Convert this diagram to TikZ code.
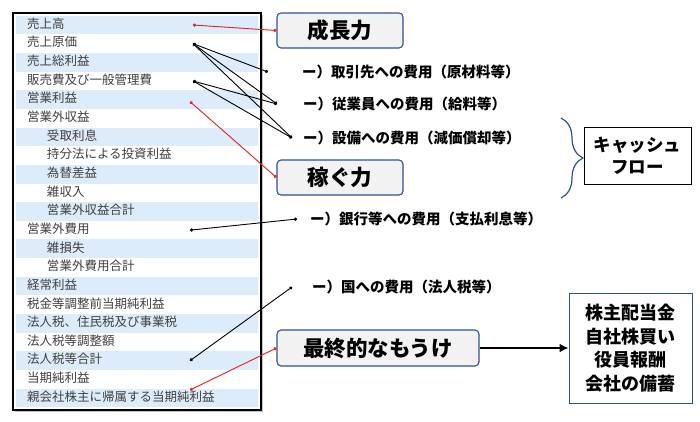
\documentclass[tikz,border=0pt]{standalone}
\usepackage{fontspec}
\setmainfont{Noto Sans CJK JP}
\usepackage{tikz}
\usetikzlibrary{arrows.meta, positioning, fit, backgrounds, shadows, decorations.pathreplacing}
\definecolor{rowblue}{RGB}{220,236,250}
\definecolor{boxblue}{RGB}{47,82,143}
\definecolor{boxgray}{RGB}{242,242,242}
\definecolor{linered}{RGB}{235,35,35}
\tikzset{
    rownode/.style = {rectangle, fill=white, inner sep=0pt, outer sep=0pt, inner xsep=11pt, minimum width=242pt,
      minimum height=18.65pt, text height=9pt, text depth=2.5pt, text width=220pt, align=left,
      font=\fontsize{12.5}{14}\selectfont, text=black!75},
    bluerownode/.style = {rownode, fill=rowblue},
    textnode/.style = {draw=none, fill=none, rectangle, inner sep=0pt, anchor=west,
      font=\fontsize{14.5}{16}\selectfont\bfseries},
    roundnode/.style = {draw=boxblue, line width=1.1pt, fill=boxgray, rounded corners=0.4em, inner sep=0pt,
      minimum height=35pt, font=\fontsize{21.5}{24}\selectfont\bfseries},
    rectanglenode/.style = {draw, rectangle, inner sep=0pt, align=center, line width=1pt},
    connect/.style = {black, line width=0.9pt, {Circle[length=3.2pt]}-{Circle[length=3.2pt]}},
    redconnect/.style = {connect, draw=linered, fill=linered}
}
\newcommand{\inrow}{\hspace*{20pt}}

\begin{document}
\begin{tikzpicture}[x=1pt, y=-1pt]
    \useasboundingbox (0,0) rectangle (700,421);

    \node [name=r1, bluerownode] at (137,25) {売上高};
    \node [name=r2, rownode, below=0pt of r1] {売上原価};
    \node [name=r3, bluerownode, below=0pt of r2] {売上総利益};
    \node [name=r4, rownode, below=0pt of r3] {販売費及び一般管理費};
    \node [name=r5, bluerownode, below=0pt of r4] {営業利益};
    \node [name=r6, rownode, below=0pt of r5] {営業外収益};
    \node [name=r7, bluerownode, below=0pt of r6] {\inrow 受取利息};
    \node [name=r8, rownode, below=0pt of r7] {\inrow 持分法による投資利益};
    \node [name=r9, bluerownode, below=0pt of r8] {\inrow 為替差益};
    \node [name=r10, rownode, below=0pt of r9] {\inrow 雑収入};
    \node [name=r11, bluerownode, below=0pt of r10] {\inrow 営業外収益合計};
    \node [name=r12, rownode, below=0pt of r11] {営業外費用};
    \node [name=r13, bluerownode, below=0pt of r12] {\inrow 雑損失};
    \node [name=r14, rownode, below=0pt of r13] {\inrow 営業外費用合計};
    \node [name=r15, bluerownode, below=0pt of r14] {経常利益};
    \node [name=r16, rownode, below=0pt of r15] {税金等調整前当期純利益};
    \node [name=r17, bluerownode, below=0pt of r16] {法人税、住民税及び事業税};
    \node [name=r18, rownode, below=0pt of r17] {法人税等調整額};
    \node [name=r19, bluerownode, below=0pt of r18] {法人税等合計};
    \node [name=r20, rownode, below=0pt of r19] {当期純利益};
    \node [name=r21, bluerownode, below=0pt of r20] {親会社株主に帰属する当期純利益};

    \begin{scope}[on background layer]
    \node [name=frame, fit=(r1)(r21), inner sep=3pt, draw, line width=2pt, fill=white,
        drop shadow={shadow xshift=2pt, shadow yshift=-2pt, fill=black!45}] {};
    \end{scope}

    \node [name=growth, roundnode, minimum width=126pt] at (340,30.5) {成長力};
    \node [name=earn, roundnode, minimum width=126pt] at (340,177.5) {稼ぐ力};
    \node [name=final, roundnode, minimum width=202pt, minimum height=36pt] at (378,348) {最終的なもうけ};

    \node [name=t1, textnode] at (302,72) {ー）取引先への費用（原材料等）};
    \node [name=t2, textnode] at (303,104) {ー）従業員への費用（給料等）};
    \node [name=t3, textnode] at (303,138) {ー）設備への費用（減価償却等）};
    \node [name=t4, textnode] at (310,219) {ー）銀行等への費用（支払利息等）};
    \node [name=t5, textnode] at (312,287) {ー）国への費用（法人税等）};

    \coordinate (e1) at ([xshift=-34pt]t1.west);
    \coordinate (e2) at ([xshift=-26pt]t2.west);
    \coordinate (e3) at ([xshift=-11pt]t3.west);
    \coordinate (e4) at ([xshift=-13pt]t4.west);
    \coordinate (e5) at ([xshift=-20pt]t5.west);

    \node [name=cash, rectanglenode, minimum width=107pt, minimum height=57pt,
        font=\fontsize{17.5}{22}\selectfont\bfseries] at (637.5,155.5) {キャッシュ\\フロー};
    \node [name=payout, rectanglenode, draw=boxblue, minimum width=123pt, minimum height=110pt,
        font=\fontsize{18}{23.5}\selectfont\bfseries] at (630.5,348) {株主配当金\\自社株買い\\役員報酬\\会社の備蓄};

    \draw [boxblue, line width=1.2pt, decorate, decoration={brace, amplitude=22pt}] (561,118) -- (561,198);

    \draw [redconnect] ([xshift=-65pt]r1.east) -- (growth.west);
    \draw [connect] ([xshift=-65pt]r2.east) -- (e1);
    \draw [connect] ([xshift=-65pt]r2.east) -- (e2);
    \draw [connect] ([xshift=-65pt]r2.east) -- (e3);
    \draw [connect] ([xshift=-65pt]r4.east) -- (e2);
    \draw [connect] ([xshift=-65pt]r4.east) -- (e3);
    \draw [redconnect] ([xshift=-68pt,yshift=-2pt]r5.east) -- (earn.west);
    \draw [connect] ([xshift=-68pt]r12.east) -- (e4);
    \draw [connect] ([xshift=-68pt]r19.east) -- (e5);
    \draw [redconnect] ([xshift=-68pt,yshift=8pt]r21.east) -- (final.west);

    \draw [line width=2.6pt, -{Latex[length=9pt, width=9pt]}] (final) -- (payout);
\end{tikzpicture}
\end{document}
